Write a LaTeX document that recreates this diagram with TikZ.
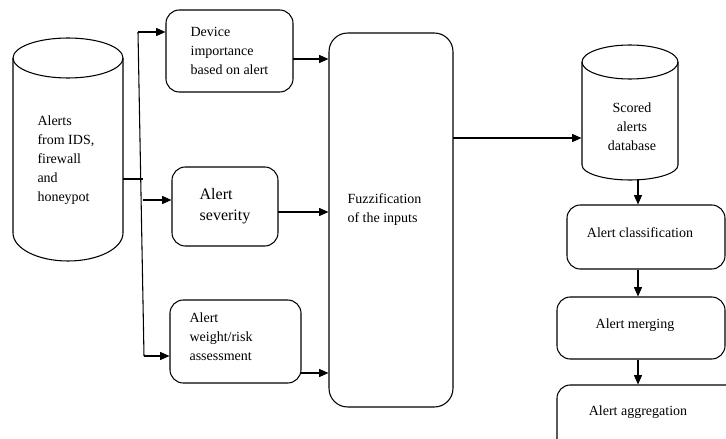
\documentclass[tikz,border=0pt]{standalone}
\usepackage{fontspec}
\setmainfont{Liberation Serif}
\usetikzlibrary{arrows.meta}
\begin{document}
\begin{tikzpicture}[x=0.75pt,y=-0.75pt, line width=0.8pt,
 box/.style={draw, rounded corners=10pt, inner sep=0pt},
 txt/.style={font=\fontsize{10.5}{14.25}\selectfont, align=left, inner sep=0pt},
 arr/.style={-{Triangle[length=7pt,width=6pt]}}]
\useasboundingbox (0,0) rectangle (726,439);
\clip (0,0) rectangle (726,439);

% left cylinder
\draw (68,58) ellipse [x radius=41.25pt, y radius=15pt];
\draw (123,58) -- (123,233) arc[start angle=0, end angle=-180, x radius=41.25pt, y radius=21pt] -- (13,58);
\node (cyl1) [inner sep=0pt, minimum width=82.5pt, minimum height=167.25pt] at (68,149.5) {};
\node (cyl1t) [txt, anchor=west] at (37,160) {Alerts\\from IDS,\\firewall\\and\\honeypot};

% right cylinder
\draw (630,62) ellipse [x radius=36pt, y radius=12.75pt];
\draw (678,62) -- (678,165) arc[start angle=0, end angle=-180, x radius=36pt, y radius=11.25pt] -- (582,62);
\node (cyl2) [inner sep=0pt, minimum width=72pt, minimum height=101.25pt] at (630,112.5) {};
\node (cyl2t) [txt, align=center] at (632,127) {Scored\\alerts\\database};

% boxes
\node (b1) [box, minimum width=95.25pt, minimum height=61.5pt, txt] at (229.5,51) {Device\\importance\\based on alert};
\node (b2) [box, minimum width=79.5pt, minimum height=59.25pt, txt, font=\fontsize{12}{15.75}\selectfont] at (225,206.5) {Alert\\severity};
\node (b3) [box, minimum width=98.25pt, minimum height=62.25pt] at (235.5,341.5) {};
\node (b3t) [txt, anchor=west] at (189,337) {Alert\\weight/risk\\assessment};
\node (fz) [box, rounded corners=14pt, minimum width=93pt, minimum height=280.5pt] at (391,220) {};
\node (fzt) [txt, anchor=west] at (347,209.5) {Fuzzification\\of the inputs};
\node (cls) [box, minimum width=118.5pt, minimum height=48pt] at (646,237) {};
\node (clst) [txt] at (640,233) {Alert classification};
\node (mrg) [box, minimum width=126pt, minimum height=46.5pt] at (641,328) {};
\node (mrgt) [txt] at (635,325) {Alert merging};
\node (agg) [box, minimum width=137.25pt, minimum height=56.25pt] at (648.5,422.5) {};
\node (aggt) [txt] at (638,412) {Alert aggregation};

% trunk
\coordinate (j0) at (123,179);
\coordinate (j1) at (143,179);
\coordinate (tT) at (138,32);
\coordinate (tB) at (144,356);
\coordinate (t2) at (143,200);
\draw (j0) -- (j1);
\draw (tT) -- (tB);
\draw[arr] (tT) -- (b1.west |- tT);
\draw[arr] (t2) -- (b2.west |- t2);
\draw[arr] (tB) -- (b3.west |- tB);

% to fuzzification
\coordinate (o1) at (293,59);
\coordinate (o2) at (278,212);
\coordinate (o3) at (301,373);
\draw[arr] (o1) -- (fz.west |- o1);
\draw[arr] (o2) -- (fz.west |- o2);
\draw[arr] (o3) -- (fz.west |- o3);

% fuzz to db
\coordinate (f1) at (453,138);
\draw[arr] (f1) -- (cyl2.west |- f1);

% right chain
\coordinate (d1) at (638,179);
\draw[arr] (d1) -- (d1 |- cls.north);
\draw[arr] (cls.south -| d1) -- (mrg.north -| d1);
\draw[arr] (mrg.south -| d1) -- (agg.north -| d1);
\end{tikzpicture}
\end{document}
